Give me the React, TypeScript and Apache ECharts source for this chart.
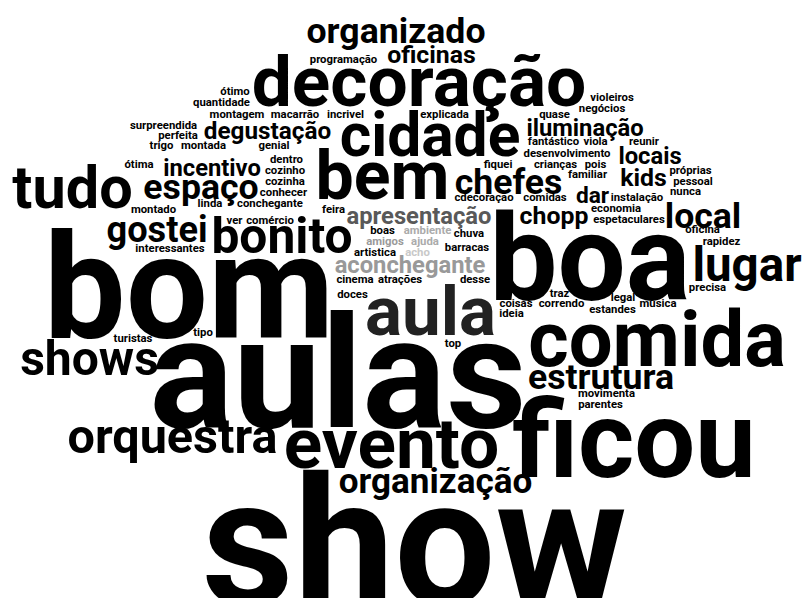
import React, { useEffect, useRef } from "react";
import * as echarts from "echarts";

// Word cloud: each word, its weight (rendered font size), and its place in the cloud layout
const words = [
  "organizado", "oficinas", "programação", "decoração", "ótimo", "quantidade", "montagem", "macarrão",
  "incrivel", "explicada", "quase", "violeiros", "negócios", "surpreendida", "perfeita", "degustação",
  "cidade", "iluminação", "trigo", "montada", "genial", "fantástico", "viola", "reunir",
  "dentro", "desenvolvimento", "ótima", "incentivo", "locais", "cozinho", "fiquei", "crianças",
  "pois", "próprias", "tudo", "bem", "cozinha", "familiar", "kids", "pessoal",
  "espaço", "chefes", "conhecer", "dar", "nunca", "cdecoração", "comidas", "instalação",
  "linda", "conchegante", "montado", "feira", "economia", "apresentação", "chopp", "local",
  "ver", "comércio", "espetaculares", "gostei", "bonito", "boas", "ambiente", "chuva",
  "oficina", "amigos", "ajuda", "rapidez", "interessantes", "barracas", "artistica", "acho",
  "bom", "boa", "aconchegante", "lugar", "cinema", "atrações", "desse", "precisa",
  "doces", "traz", "legal", "aula", "coisas", "correndo", "música", "estandes",
  "ideia", "comida", "turistas", "tipo", "top", "shows", "aulas", "estrutura",
  "movimenta", "parentes", "orquestra", "evento", "ficou", "organização", "show",
];

const weights = [
  33, 23, 10.5, 66, 10.5, 10.5, 10.5, 10.5,
  10.5, 10.5, 10.5, 10.5, 10.5, 10.5, 10.5, 22.5,
  56, 22, 10.5, 10.5, 10.5, 10.5, 10.5, 10.5,
  10.5, 10.5, 10.5, 22, 22, 10.5, 10.5, 10.5,
  10.5, 10.5, 55, 63, 10.5, 10.5, 23, 10.5,
  33, 33, 10.5, 21, 10.5, 10.5, 10.5, 10.5,
  10.5, 10.5, 10.5, 10.5, 10.5, 22, 23, 33,
  10.5, 10.5, 10.5, 33.5, 46, 10.5, 10.5, 10.5,
  10.5, 10.5, 10.5, 10.5, 10.5, 10.5, 10.5, 10.5,
  135, 112, 22, 44, 10.5, 10.5, 10.5, 10.5,
  10.5, 10.5, 10.5, 64, 10.5, 10.5, 10.5, 10.5,
  10.5, 72, 10.5, 10.5, 10.5, 44.5, 145, 33,
  10.5, 10.5, 45, 66, 100, 32.5, 166,
];

// horizontal centre of each word in the layout space (0..807)
const layoutX = [
  396, 431.5, 343.5, 419, 235, 221.5, 237, 295,
  345.5, 444.5, 554.5, 612, 602, 163.5, 178, 267.5,
  430, 585, 161.5, 203.5, 274, 553.5, 595.5, 644,
  286.5, 567, 139, 212, 650, 285, 498, 555.5,
  595.5, 690.5, 72.5, 382.5, 285, 587.5, 643.5, 693,
  201, 508.5, 283.5, 592.5, 685.5, 484, 545, 637,
  210, 270, 153.5, 333.5, 616, 419, 554, 703,
  234.5, 270, 629, 157, 282, 382.5, 427.5, 469,
  702.5, 385, 425, 721.5, 170, 467, 375, 417.5,
  189, 590, 410, 747, 355, 400, 475, 707.5,
  352.5, 559.5, 623, 430.5, 516, 561.5, 658, 612.5,
  511.5, 657, 133, 203, 453, 89.5, 338, 601,
  606.5, 600.5, 172.5, 391.5, 634, 435.5, 414.5,
];

// baseline of each word in the layout space (0..598, top to bottom)
const layoutBaseline = [
  41, 62, 62, 102, 94, 105, 117, 117,
  117, 117, 117, 100, 111, 128, 138, 138,
  153, 135, 148, 148, 148, 144, 144, 144,
  162, 156, 167, 175, 163, 173, 167, 167,
  167, 173, 205, 196, 184, 177, 185, 184,
  197, 192, 195, 202, 194, 200, 200, 200,
  206, 206, 212, 212, 211, 223, 223, 226,
  223, 223, 222, 240, 250, 233, 233, 236,
  232, 244, 244, 244, 251, 250, 255, 255,
  331, 294, 272, 279, 282, 282, 282, 290,
  297, 296, 300, 332, 306, 306, 306, 312,
  316, 362, 341, 335, 346, 372, 419, 387,
  396, 407, 451, 464, 471, 491, 596,
];

const greyWords: Record<string, string> = {
  "apresentação": "#595959",
  "ambiente": "#ababab",
  "amigos": "#9a9a9a",
  "ajuda": "#ababab",
  "acho": "#c8c8c8",
  "aconchegante": "#999999",
  "aula": "#222222",
};

const FONT_FAMILY = "Roboto, 'Open Sans', sans-serif";
const FONT_SCALE = 1.08; // weight -> px for the chosen typeface
const CENTRAL_OFFSET = 0.29; // central baseline above alphabetic baseline, in em

export default function App() {
  const ref = useRef<HTMLDivElement>(null);

  useEffect(() => {
    document.body.style.margin = "0";
    if (!ref.current) return;
    const chart = echarts.init(ref.current, null, { renderer: "svg" });
    const data = words.map((w, i) => {
      const size = weights[i] * FONT_SCALE;
      const y = layoutBaseline[i] - CENTRAL_OFFSET * size;
      return {
        name: w,
        value: [layoutX[i], y],
        label: { fontSize: size, color: greyWords[w] || "#000000" },
      };
    });
    chart.setOption({
      animation: false,
      backgroundColor: "#ffffff",
      grid: { left: 0, right: 0, top: 0, bottom: 0 },
      xAxis: { type: "value", min: 0, max: 807, show: false },
      yAxis: { type: "value", min: 0, max: 598, inverse: true, show: false },
      series: [
        {
          type: "scatter",
          symbolSize: 0,
          silent: true,
          clip: false,
          itemStyle: { opacity: 1 },
          data,
          label: {
            show: true,
            position: "inside",
            formatter: "{b}",
            fontFamily: FONT_FAMILY,
            fontWeight: "bold",
            color: "#000",
          },
          emphasis: { disabled: true },
        },
      ],
    });
    return () => chart.dispose();
  }, []);

  return <div ref={ref} style={{ width: 807, height: 598 }} />;
}
